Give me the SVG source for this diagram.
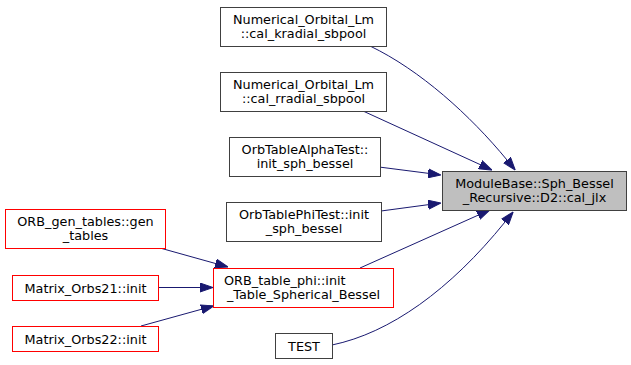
<svg xmlns="http://www.w3.org/2000/svg" width="631" height="365" viewBox="0 0 631 365">
  <style>
    .node rect { fill: #ffffff; stroke: #404040; stroke-width: 1; }
    .node.trunc rect { stroke: #ff0000; }
    .node.current rect { fill: #bfbfbf; stroke: #404040; }
    .node text { font-family: "DejaVu Sans", "Liberation Sans", sans-serif; font-size: 12.8px; fill: #000000; }
    .edges path { fill: none; stroke: #191970; stroke-width: 1; }
  </style>
  <defs>
    <marker id="arrow" viewBox="0 0 13 10" refX="0" refY="5" markerWidth="13" markerHeight="10" orient="auto" markerUnits="userSpaceOnUse">
      <path d="M0,0.5 L13,5 L0,9.5 Z" fill="#191970" stroke="#191970" stroke-width="1"/>
    </marker>
  </defs>
  <rect width="631" height="365" fill="#ffffff"/>

  <!-- call edges: every caller points at its callee -->
  <g id="edges" class="edges">
    <path id="e_kradial" d="M370,46 C420,70 470,115 507,160" marker-end="url(#arrow)"/>
    <path id="e_rradial" d="M363,111 L480.2,164.6" marker-end="url(#arrow)"/>
    <path id="e_alpha" d="M379,167 L428.1,173.3" marker-end="url(#arrow)"/>
    <path id="e_phitest" d="M381,211 L428.1,204.7" marker-end="url(#arrow)"/>
    <path id="e_tablephi" d="M360,268 L478.1,215.2" marker-end="url(#arrow)"/>
    <path id="e_test" d="M332,345 C390,333 450,290 505,222" marker-end="url(#arrow)"/>
    <path id="e_gen" d="M160,248 L215.5,263.5" marker-end="url(#arrow)"/>
    <path id="e_m21" d="M158,287.5 L200,287.5" marker-end="url(#arrow)"/>
    <path id="e_m22" d="M141,326 L201.4,309.3" marker-end="url(#arrow)"/>
  </g>

  <g id="node_cal_jlx" class="node current">
    <rect x="442.5" y="171.5" width="184" height="39"/>
    <text x="534.5" y="187.5" text-anchor="middle">ModuleBase::Sph_Bessel</text>
    <text x="534.5" y="201.5" text-anchor="middle">_Recursive::D2::cal_jlx</text>
  </g>

  <g id="node_cal_kradial_sbpool" class="node">
    <rect x="220.5" y="7.5" width="166" height="39"/>
    <text x="303.5" y="23.5" text-anchor="middle">Numerical_Orbital_Lm</text>
    <text x="303.5" y="37.5" text-anchor="middle">::cal_kradial_sbpool</text>
  </g>

  <g id="node_cal_rradial_sbpool" class="node">
    <rect x="220.5" y="72.5" width="166" height="39"/>
    <text x="303.5" y="88.5" text-anchor="middle">Numerical_Orbital_Lm</text>
    <text x="303.5" y="102.5" text-anchor="middle">::cal_rradial_sbpool</text>
  </g>

  <g id="node_alpha_init_sph_bessel" class="node">
    <rect x="229.5" y="137.5" width="151" height="39"/>
    <text x="305" y="153.5" text-anchor="middle">OrbTableAlphaTest::</text>
    <text x="305" y="167.5" text-anchor="middle">init_sph_bessel</text>
  </g>

  <g id="node_phi_init_sph_bessel" class="node">
    <rect x="226.5" y="202.5" width="155" height="39"/>
    <text x="304" y="218.5" text-anchor="middle">OrbTablePhiTest::init</text>
    <text x="304" y="232.5" text-anchor="middle">_sph_bessel</text>
  </g>

  <g id="node_init_table_spherical_bessel" class="node trunc">
    <rect x="213.5" y="268.5" width="180" height="39"/>
    <text x="224" y="284.5" text-anchor="start">ORB_table_phi::init</text>
    <text x="303.5" y="298.5" text-anchor="middle">_Table_Spherical_Bessel</text>
  </g>

  <g id="node_gen_tables" class="node trunc">
    <rect x="5.5" y="209.5" width="160" height="39"/>
    <text x="85.5" y="225.5" text-anchor="middle">ORB_gen_tables::gen</text>
    <text x="85.5" y="239.5" text-anchor="middle">_tables</text>
  </g>

  <g id="node_orbs21_init" class="node trunc">
    <rect x="12.5" y="275.5" width="146" height="25"/>
    <text x="85.5" y="292.5" text-anchor="middle">Matrix_Orbs21::init</text>
  </g>

  <g id="node_orbs22_init" class="node trunc">
    <rect x="12.5" y="326.5" width="146" height="25"/>
    <text x="85.5" y="343.5" text-anchor="middle">Matrix_Orbs22::init</text>
  </g>

  <g id="node_test" class="node">
    <rect x="275.5" y="333.5" width="57" height="25"/>
    <text x="304" y="350.5" text-anchor="middle">TEST</text>
  </g>
</svg>
